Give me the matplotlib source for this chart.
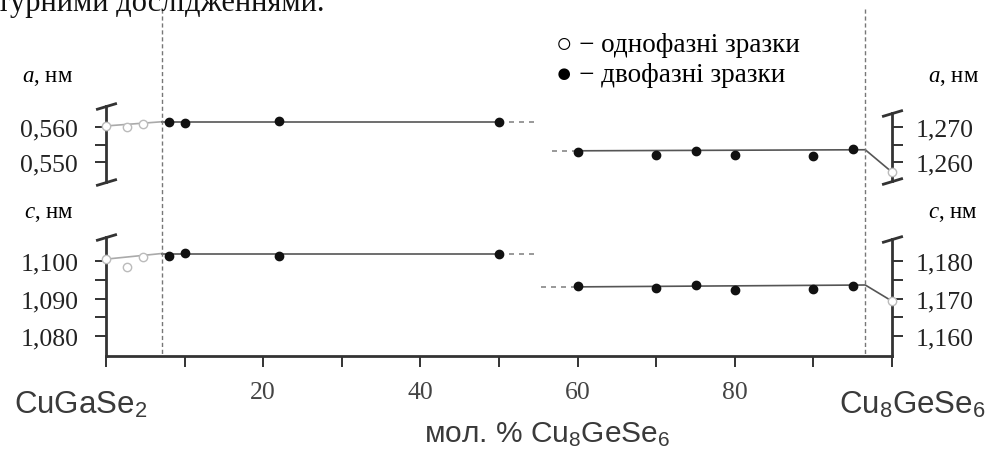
import matplotlib
matplotlib.use("Agg")
import matplotlib.pyplot as plt
from matplotlib.path import Path
from matplotlib.ticker import FixedLocator, FuncFormatter
from matplotlib.transforms import blended_transform_factory

plt.rcParams['mathtext.fontset'] = 'custom'
plt.rcParams['mathtext.rm'] = 'Liberation Sans'
plt.rcParams['mathtext.it'] = 'Liberation Serif:italic'

# однофазні зразки (CuGaSe2 side)
x_open_left = [0, 2.7, 4.7]
a_open_left = [0.5603, 0.5600, 0.5609]
c_open_left = [1.1005, 1.0984, 1.1011]

# двофазні зразки, ліва частина
x_left = [8, 10, 22, 50]
a_left = [0.5615, 0.5611, 0.5617, 0.5614]
c_left = [1.1013, 1.1021, 1.1013, 1.1019]

# двофазні зразки, права частина
x_right = [60, 70, 75, 80, 90, 95]
a_right = [1.2629, 1.2620, 1.2631, 1.2620, 1.2617, 1.2637]
c_right = [1.1733, 1.1728, 1.1736, 1.1723, 1.1725, 1.1733]

# однофазний Cu8GeSe6
x_open_right = [100]
a_open_right = [1.2571]
c_open_right = [1.1693]

# межі областей
x_bound = [7.1, 96.6]

# лінії
a_line_left = ([0, 7.1, 50], [0.5603, 0.5615, 0.5615])
a_dash_left = ([50, 54.6], [0.5615, 0.5615])
c_line_left = ([0, 7.1, 50], [1.1005, 1.1020, 1.1020])
c_dash_left = ([50, 54.4], [1.1020, 1.1020])
a_line_right = ([60, 96.6, 100], [1.2632, 1.2635, 1.2571])
a_dash_right = ([56.8, 60], [1.2632, 1.2632])
c_line_right = ([60, 96.6, 100], [1.1731, 1.1736, 1.1693])
c_dash_right = ([55.3, 60], [1.1730, 1.1730])

xticks = list(range(0, 101, 10))
xtick_labels = ['', '', '20', '', '40', '', '60', '', '80', '', '']

W, H = 988, 452
fig = plt.figure(figsize=(W / 100, H / 100), dpi=100)

def box(left, top, right, bottom):
    return [left / W, 1 - bottom / H, (right - left) / W, (bottom - top) / H]

ax_top = fig.add_axes(box(106, 100, 892, 190))
ax_bot = fig.add_axes(box(106, 225, 892, 357))
ax_top.set_ylim(0.542286, 0.568)
ax_bot.set_ylim(1.074667, 1.109867)
ax_top_r = ax_top.twinx()
ax_bot_r = ax_bot.twinx()
ax_top_r.set_ylim(0.542286 + 0.71, 0.568 + 0.71)
ax_bot_r.set_ylim(1.074667 + 0.08, 1.109867 + 0.08)

dark = '#333333'
comma = FuncFormatter(lambda v, p: ('%.3f' % v).replace('.', ','))
serif = ['Liberation Serif', 'DejaVu Serif']

for ax in (ax_top, ax_bot, ax_top_r, ax_bot_r):
    ax.set_xlim(0, 100)
    ax.patch.set_visible(False)
    for s in ax.spines.values():
        s.set_visible(False)
    ax.tick_params(axis='both', which='both', length=8, width=1.4, color=dark,
                   labelsize=18.5, labelcolor='#222222')
    for lab in ax.get_yticklabels() + ax.get_xticklabels():
        lab.set_family(serif)

ax_top.set_xticks([])
ax_top_r.set_xticks([])

# left a axis
ax_top.spines['left'].set_visible(True)
ax_top.spines['left'].set_bounds(0.5443, 0.566)
ax_top.yaxis.set_major_locator(FixedLocator([0.550, 0.560]))
ax_top.yaxis.set_minor_locator(FixedLocator([0.555]))
ax_top.yaxis.set_major_formatter(comma)
ax_top.tick_params(axis='y', which='both', pad=12)

# right a axis
ax_top_r.spines['right'].set_visible(True)
ax_top_r.spines['right'].set_bounds(1.2546, 1.274)
ax_top_r.yaxis.set_major_locator(FixedLocator([1.260, 1.270]))
ax_top_r.yaxis.set_minor_locator(FixedLocator([1.265]))
ax_top_r.yaxis.set_major_formatter(comma)
ax_top_r.tick_params(axis='y', which='both', pad=9)

# left c axis
ax_bot.spines['left'].set_visible(True)
ax_bot.spines['left'].set_bounds(1.074667, 1.1064)
ax_bot.spines['bottom'].set_visible(True)
ax_bot.yaxis.set_major_locator(FixedLocator([1.080, 1.090, 1.100]))
ax_bot.yaxis.set_minor_locator(FixedLocator([1.085, 1.095]))
ax_bot.yaxis.set_major_formatter(comma)
ax_bot.tick_params(axis='y', which='both', pad=12)

# right c axis
ax_bot_r.spines['right'].set_visible(True)
ax_bot_r.spines['right'].set_bounds(1.074667 + 0.08, 1.1859)
ax_bot_r.yaxis.set_major_locator(FixedLocator([1.160, 1.170, 1.180]))
ax_bot_r.yaxis.set_minor_locator(FixedLocator([1.165, 1.175]))
ax_bot_r.yaxis.set_major_formatter(comma)
ax_bot_r.tick_params(axis='y', which='both', pad=9)

for ax in (ax_top, ax_bot, ax_top_r, ax_bot_r):
    for s in ax.spines.values():
        s.set_color(dark)
        s.set_linewidth(2)

ax_bot.set_xticks(xticks)
ax_bot.set_xticklabels(xtick_labels)
ax_bot.tick_params(axis='x', pad=10, labelcolor='#444444')
for lab in ax_bot.get_xticklabels():
    lab.set_family(serif)

# slanted caps on axis ends
cap = Path([(-1, -0.3), (1, 0.3)], [Path.MOVETO, Path.LINETO])
cap_kw = dict(marker=cap, ms=15, mew=2, color=dark, ls='none', clip_on=False)
ax_top.plot([0, 0], [0.5443, 0.566], **cap_kw)
ax_top_r.plot([100, 100], [1.2546, 1.274], **cap_kw)
ax_bot.plot([0], [1.1064], **cap_kw)
ax_bot_r.plot([100], [1.1859], **cap_kw)

# lines
line_kw = dict(color='#555555', lw=1.2)
dash_kw = dict(color='#888888', lw=1.2, dashes=(3, 3))
ax_top.plot(a_line_left[0][:2], a_line_left[1][:2], color='#aaaaaa', lw=1.2)
ax_top.plot(a_line_left[0][1:], a_line_left[1][1:], **line_kw)
ax_top.plot(*a_dash_left, **dash_kw)
ax_bot.plot(c_line_left[0][:2], c_line_left[1][:2], color='#aaaaaa', lw=1.2)
ax_bot.plot(c_line_left[0][1:], c_line_left[1][1:], **line_kw)
ax_bot.plot(*c_dash_left, **dash_kw)
ax_top_r.plot(*a_line_right, **line_kw)
ax_top_r.plot(*a_dash_right, **dash_kw)
ax_bot_r.plot(*c_line_right, **line_kw)
ax_bot_r.plot(*c_dash_right, **dash_kw)

# points
filled = dict(marker='o', ms=6, color='#111111', ls='none', zorder=5, clip_on=False)
hollow = dict(marker='o', ms=6, mfc='white', mec='#bbbbbb', mew=1, ls='none', zorder=5, clip_on=False)
ax_top.plot(x_left, a_left, **filled)
ax_top.plot(x_open_left, a_open_left, **hollow)
ax_bot.plot(x_left, c_left, **filled)
ax_bot.plot(x_open_left, c_open_left, **hollow)
ax_top_r.plot(x_right, a_right, **filled)
ax_top_r.plot(x_open_right, a_open_right, **hollow)
ax_bot_r.plot(x_right, c_right, **filled)
ax_bot_r.plot(x_open_right, c_open_right, **hollow)

# phase boundaries
tr = blended_transform_factory(ax_bot.transData, fig.transFigure)
for xb in x_bound:
    fig.add_artist(plt.Line2D([xb, xb], [1 - 10 / H, 1 - 357 / H], transform=tr,
                              color='#777777', lw=1, dashes=(3, 2)))

# texts
def px(x, y):
    return x / W, 1 - y / H

fig.text(*px(-3, 11), 'турними дослідженнями.', family=serif, fontsize=22,
         va='baseline', ha='left', color='#111111')
fig.text(*px(22, 77), r'$a$, нм', family=serif, fontsize=16.5, va='center', ha='left')
fig.text(*px(928, 77), r'$a$, нм', family=serif, fontsize=16.5, va='center', ha='left')
fig.text(*px(24, 214), r'$c$, нм', family=serif, fontsize=16.5, va='center', ha='left')
fig.text(*px(928, 214), r'$c$, нм', family=serif, fontsize=16.5, va='center', ha='left')
fig.text(*px(556, 45), '○ − однофазні зразки', family=serif, fontsize=19.5, va='center', ha='left')
fig.text(*px(556, 75), '● − двофазні зразки', family=serif, fontsize=19.5, va='center', ha='left')

sans = ['Liberation Sans', 'DejaVu Sans']
gray = '#3a3a3a'
fig.text(*px(14, 405), r'CuGaSe$_2$', family=sans, fontsize=22.5, va='center', ha='left', color=gray)
fig.text(*px(986, 405), r'Cu$_8$GeSe$_6$', family=sans, fontsize=22.5, va='center', ha='right', color=gray)
fig.text(*px(547, 435), r'мол. % Cu$_8$GeSe$_6$', family=sans, fontsize=21.5, va='center', ha='center', color=gray)

fig.savefig('out.png', dpi=100)
